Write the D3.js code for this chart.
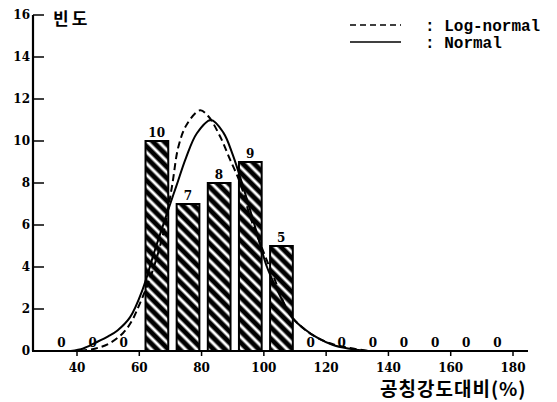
<!DOCTYPE html>
<html>
<head>
<meta charset="utf-8">
<script src="https://cdn.jsdelivr.net/npm/d3@7"></script>
<style>
  body { margin: 0; background: #fff; }
</style>
</head>
<body>
<script>
// data
const binStarts = [60, 70, 80, 90, 100]
const counts = [10, 7, 8, 9, 5]
const zeroBins = [30, 40, 50, 110, 120, 130, 140, 150, 160, 170]
const xTicks = [40, 60, 80, 100, 120, 140, 160, 180]
const yTicks = [0, 2, 4, 6, 8, 10, 12, 14, 16]

// fitted curves (value, frequency)
const normalX = [38, 42, 46, 50, 53, 57, 61, 65, 69, 72, 75, 78.5, 83, 87, 90, 94, 98, 101, 104, 109, 113, 117, 122, 127, 133]
const normalY = [0, 0.12, 0.4, 0.7, 0.98, 1.6, 2.9, 4.8, 6.6, 7.9, 9.2, 10.37, 11.0, 10.4, 9.35, 7.5, 5.5, 4.0, 3.0, 1.6, 1.05, 0.65, 0.3, 0.12, 0]
const logX = [41, 46, 50.6, 54.8, 57.5, 60, 64, 67.7, 70.5, 72.6, 75.3, 79.5, 82.1, 86, 89.2, 92.4, 95.6, 98.8, 103.1, 108.4, 114.8, 121.2, 127.7, 134]
const logY = [0, 0.12, 0.38, 0.86, 1.4, 2.2, 3.7, 5.6, 7.84, 9.75, 10.8, 11.46, 11.19, 10.2, 9.1, 8.0, 6.4, 5.13, 3.54, 1.75, 0.84, 0.37, 0.14, 0]

const svg = d3.select("body")
    .append("svg")
    .attr("width", 557)
    .attr("height", 402)

const x = d3.scaleLinear().domain([40, 180]).range([77, 513])
const y = d3.scaleLinear().domain([0, 16]).range([351, 15])

const numFont = "bold 12px 'DejaVu Serif', serif"

// hachures des barres
const pat = svg.append("defs").append("pattern")
    .attr("id", "hatch")
    .attr("patternUnits", "userSpaceOnUse")
    .attr("width", 8)
    .attr("height", 8)
    .attr("patternTransform", "rotate(-45)")
pat.append("rect").attr("width", 8).attr("height", 8).attr("fill", "#000")
pat.append("line")
    .attr("x1", 4).attr("y1", 0).attr("x2", 4).attr("y2", 8)
    .attr("stroke", "#fff").attr("stroke-width", 3)

// barres
svg.selectAll("rect.bar")
    .data(binStarts)
    .enter()
    .append("rect")
    .attr("class", "bar")
    .attr("x", d => x(d + 2))
    .attr("y", (d, i) => y(counts[i]))
    .attr("width", d => x(d + 9.3) - x(d + 2))
    .attr("height", (d, i) => y(0) - y(counts[i]))
    .attr("fill", "url(#hatch)")
    .attr("stroke", "#000")
    .attr("stroke-width", 2)

svg.selectAll("text.count")
    .data(binStarts)
    .enter()
    .append("text")
    .attr("x", d => x(d + 5.6))
    .attr("y", (d, i) => y(counts[i]) - 4)
    .attr("text-anchor", "middle")
    .style("font", numFont)
    .text((d, i) => counts[i])

svg.selectAll("text.zero")
    .data(zeroBins)
    .enter()
    .append("text")
    .attr("x", d => x(d + 5))
    .attr("y", y(0) - 4)
    .attr("text-anchor", "middle")
    .style("font", numFont)
    .text("0")

// courbes
const line = d3.line()
    .x(d => x(d[0]))
    .y(d => y(d[1]))
    .curve(d3.curveCatmullRom)

svg.append("path")
    .datum(d3.zip(normalX, normalY))
    .attr("d", line)
    .attr("fill", "none")
    .attr("stroke", "#000")
    .attr("stroke-width", 2)

svg.append("path")
    .datum(d3.zip(logX, logY))
    .attr("d", line)
    .attr("fill", "none")
    .attr("stroke", "#000")
    .attr("stroke-width", 2)
    .attr("stroke-dasharray", "7,4")

// axes
svg.append("line")
    .attr("x1", 33).attr("y1", y(16)).attr("x2", 33).attr("y2", y(0))
    .attr("stroke", "#000").attr("stroke-width", 2.2)
svg.append("line")
    .attr("x1", 32).attr("y1", y(0)).attr("x2", 528).attr("y2", y(0))
    .attr("stroke", "#000").attr("stroke-width", 2)

svg.selectAll("line.ytick")
    .data(yTicks)
    .enter()
    .append("line")
    .attr("x1", 33).attr("x2", 44)
    .attr("y1", d => y(d)).attr("y2", d => y(d))
    .attr("stroke", "#000").attr("stroke-width", 1.5)

svg.selectAll("text.ylab")
    .data(yTicks)
    .enter()
    .append("text")
    .attr("x", 30)
    .attr("y", d => y(d) + 4)
    .attr("text-anchor", "end")
    .style("font", numFont)
    .text(d => d)

svg.selectAll("line.xtick")
    .data(xTicks)
    .enter()
    .append("line")
    .attr("x1", d => x(d)).attr("x2", d => x(d))
    .attr("y1", y(0)).attr("y2", y(0) + 5)
    .attr("stroke", "#000").attr("stroke-width", 1.5)

svg.selectAll("text.xlab")
    .data(xTicks)
    .enter()
    .append("text")
    .attr("x", d => x(d))
    .attr("y", 372)
    .attr("text-anchor", "middle")
    .style("font", numFont)
    .text(d => d)

// titres
svg.append("text")
    .attr("x", 53).attr("y", 25)
    .attr("letter-spacing", 3)
    .style("font", "bold 17px 'Noto Sans CJK KR'")
    .text("빈도")

svg.append("text")
    .attr("x", 380).attr("y", 396)
    .attr("letter-spacing", 1)
    .style("font", "bold 19px 'Noto Sans CJK KR'")
    .text("공칭강도대비(%)")

// légende
svg.append("line")
    .attr("x1", 350).attr("y1", 25).attr("x2", 401).attr("y2", 25)
    .attr("stroke", "#000").attr("stroke-width", 1.5)
    .attr("stroke-dasharray", "6,4")
svg.append("line")
    .attr("x1", 350).attr("y1", 42).attr("x2", 401).attr("y2", 42)
    .attr("stroke", "#000").attr("stroke-width", 1.5)

svg.append("text")
    .attr("x", 425).attr("y", 31)
    .style("font", "bold 16px 'Liberation Mono', monospace")
    .text(": Log-normal")
svg.append("text")
    .attr("x", 425).attr("y", 48)
    .style("font", "bold 16px 'Liberation Mono', monospace")
    .text(": Normal")
</script>
</body>
</html>
